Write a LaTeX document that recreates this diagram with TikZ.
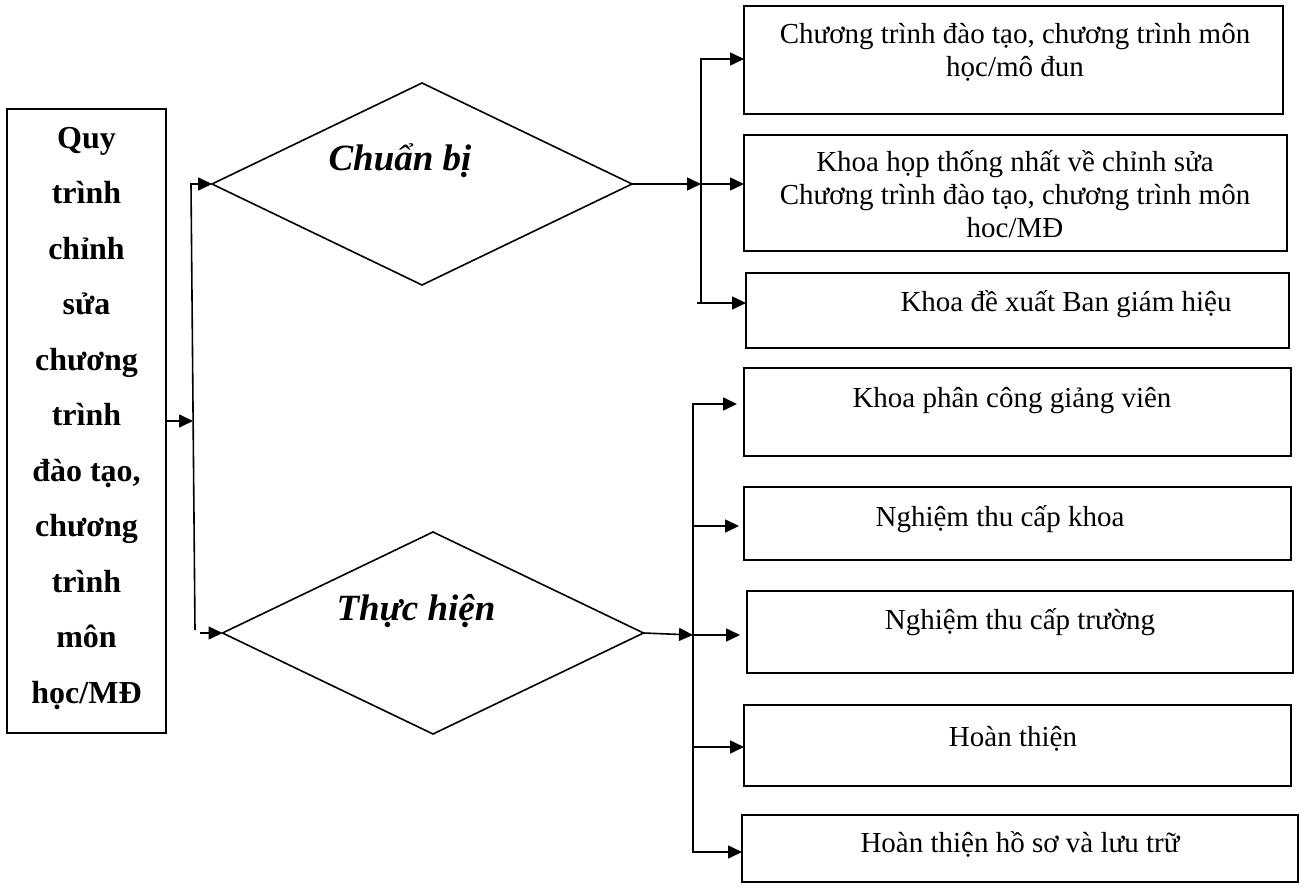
\documentclass[tikz,border=0pt]{standalone}
\usepackage{fontspec}
\setmainfont{Liberation Serif}
\usetikzlibrary{shapes.geometric,arrows.meta}
\begin{document}
\begin{tikzpicture}[x=1pt,y=-1pt,
  line width=1.6pt,
  box/.style={draw, rectangle, inner sep=0pt, outer sep=0pt},
  dia/.style={draw, diamond, inner sep=0pt, outer sep=0pt},
  arr/.style={-{Triangle[length=14pt,width=13pt]}},
  txt/.style={font=\fontsize{29}{33}\selectfont, align=center, inner sep=0pt},
  btxt/.style={font=\bfseries\fontsize{32}{55.5}\selectfont, align=center, inner sep=0pt},
  dtxt/.style={font=\bfseries\itshape\fontsize{37}{40}\selectfont, inner sep=0pt, anchor=base}]
\useasboundingbox (0,0) rectangle (1306,888);

% left box
\node[box, minimum width=159pt, minimum height=624pt] (q) at (86.5,421) {};
\node[btxt] (qt) at (86.5,418.5) {Quy\\trình\\chỉnh\\sửa\\chương\\trình\\đào tạo,\\chương\\trình\\môn\\học/MĐ};

% diamonds
\node[dia, minimum width=420pt, minimum height=202pt] (d1) at (422,184) {};
\node[dia, minimum width=421pt, minimum height=202pt] (d2) at (433,633) {};
\node[dtxt] (d1t) at (400,170) {Chuẩn bị};
\node[dtxt] (d2t) at (416,620) {Thực hiện};

% right boxes
\node[box, minimum width=539pt, minimum height=108pt] (b1) at (1013.5,60) {};
\node[box, minimum width=543pt, minimum height=116pt] (b2) at (1015.5,193) {};
\node[box, minimum width=543pt, minimum height=75pt]  (b3) at (1017.5,310.5) {};
\node[box, minimum width=547pt, minimum height=88pt]  (b4) at (1017.5,412) {};
\node[box, minimum width=547pt, minimum height=73pt]  (b5) at (1017.5,523.5) {};
\node[box, minimum width=546pt, minimum height=82pt]  (b6) at (1020,632) {};
\node[box, minimum width=547pt, minimum height=81pt]  (b7) at (1017.5,745.5) {};
\node[box, minimum width=556pt, minimum height=67pt]  (b8) at (1020,848.5) {};

\node[txt] (t1) at (1015,52.5) {Chương trình đào tạo, chương trình môn\\học/mô đun};
\node[txt] (t2) at (1015,194) {Khoa họp thống nhất về chỉnh sửa\\Chương trình đào tạo, chương trình môn\\hoc/MĐ};
\node[txt, anchor=base] (t3) at (1066,311) {Khoa đề xuất Ban giám hiệu};
\node[txt, anchor=base] (t4) at (1012,407) {Khoa phân công giảng viên};
\node[txt, anchor=base] (t5) at (1000,526) {Nghiệm thu cấp khoa};
\node[txt, anchor=base] (t6) at (1020,629) {Nghiệm thu cấp trường};
\node[txt, anchor=base] (t7) at (1013,746) {Hoàn thiện};
\node[txt, anchor=base] (t8) at (1020,852) {Hoàn thiện hồ sơ và lưu trữ};

% left connectors
\coordinate (lt) at (191,184);
\coordinate (lb) at (195,630);
\coordinate (lm) at (193,421);
\coordinate (lb2) at (200,633);
\draw[arr] (lb) -- (lt) -- (d1.west);
\draw[arr] (q.east) -- (lm);
\draw[arr] (lb2) -- (d2.west);

% group 1
\coordinate (r1t) at (701,59);
\coordinate (r1m) at (701,184);
\coordinate (r1b) at (701,303);
\coordinate (r1s) at (697,303);
\draw[arr] (r1b) -- (r1t) -- (r1t -| b1.west);
\draw[arr] (d1.east) -- (r1m);
\draw[arr] (r1m) -- (r1m -| b2.west);
\draw[arr] (r1s) -- (r1s -| b3.west);

% group 2
\coordinate (r2t) at (693,404);
\coordinate (r2a) at (693,526);
\coordinate (r2m) at (693,635);
\coordinate (r2c) at (693,747);
\coordinate (r2b) at (693,852);
\draw[arr, shorten >=7pt] (r2b) -- (r2t) -- (r2t -| b4.west);
\draw[arr] (r2t) -- (r2b) -- (r2b -| b8.west);
\draw[arr] (d2.east) -- (r2m);
\draw[arr, shorten >=5pt] (r2a) -- (r2a -| b5.west);
\draw[arr, shorten >=7pt] (r2m) -- (r2m -| b6.west);
\draw[arr] (r2c) -- (r2c -| b7.west);
\end{tikzpicture}
\end{document}
